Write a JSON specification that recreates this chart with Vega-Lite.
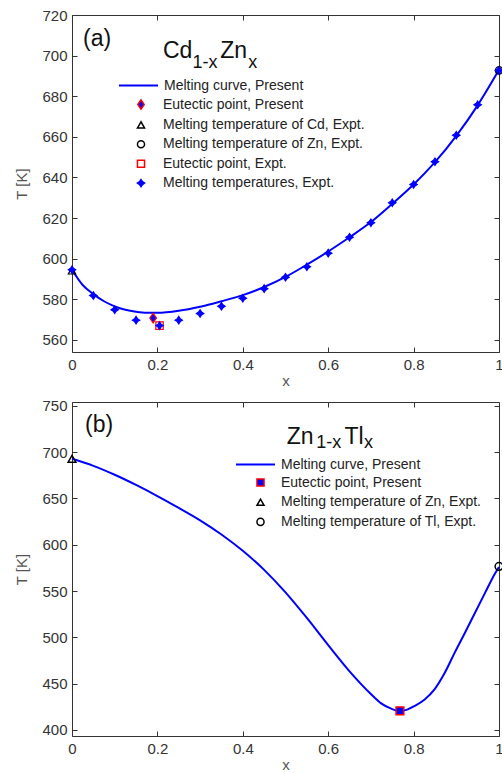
{
  "$schema": "https://vega.github.io/schema/vega-lite/v6.json",
  "background": "white",
  "padding": {"left": 14, "top": 7, "right": 0, "bottom": 0},
  "spacing": 9,
  "config": {
    "view": {"stroke": "#333", "strokeWidth": 1},
    "axis": {"grid": false, "domain": false, "tickColor": "#333", "tickSize": -5, "tickWidth": 1,
      "labelFont": "Liberation Sans", "labelFontSize": 15, "labelColor": "#333", "labelPadding": 10,
      "labelFlush": false, "labelOverlap": false,
      "titleFont": "Liberation Sans", "titleFontSize": 15, "titleFontWeight": "normal", "titleColor": "#555"},
    "axisX": {"titlePadding": 1},
    "axisY": {"titlePadding": 12},
    "legend": {"labelFont": "Liberation Sans", "labelFontSize": 14, "labelColor": "#222", "padding": 0, "labelLimit": 0}
  },
  "datasets": {
    "cz_curve": [
      {"x": 0, "T": 594.5}, {"x": 0.025, "T": 587}, {"x": 0.05, "T": 582.5}, {"x": 0.075, "T": 579},
      {"x": 0.1, "T": 576.5}, {"x": 0.125, "T": 574.8}, {"x": 0.15, "T": 573.8}, {"x": 0.175, "T": 573.3},
      {"x": 0.2, "T": 573.3}, {"x": 0.25, "T": 574.3}, {"x": 0.3, "T": 576.3}, {"x": 0.35, "T": 579},
      {"x": 0.4, "T": 582}, {"x": 0.45, "T": 586}, {"x": 0.5, "T": 591}, {"x": 0.55, "T": 597},
      {"x": 0.6, "T": 603.5}, {"x": 0.65, "T": 610.5}, {"x": 0.7, "T": 618}, {"x": 0.75, "T": 627},
      {"x": 0.8, "T": 636.5}, {"x": 0.85, "T": 647.5}, {"x": 0.9, "T": 660.5}, {"x": 0.95, "T": 675.5},
      {"x": 1, "T": 693}
    ],
    "cz_pts": [
      {"x": 0, "T": 594, "s": "Melting temperature of Cd, Expt."},
      {"x": 1, "T": 692.7, "s": "Melting temperature of Zn, Expt."},
      {"x": 0.205, "T": 567, "s": "Eutectic point, Expt."},
      {"x": 0.19, "T": 570.7, "s": "Eutectic point, Present"},
      {"x": 0, "T": 594.5, "s": "Melting temperatures, Expt."},
      {"x": 0.05, "T": 581.8, "s": "Melting temperatures, Expt."},
      {"x": 0.1, "T": 574.8, "s": "Melting temperatures, Expt."},
      {"x": 0.15, "T": 569.7, "s": "Melting temperatures, Expt."},
      {"x": 0.205, "T": 567, "s": "Melting temperatures, Expt."},
      {"x": 0.25, "T": 569.7, "s": "Melting temperatures, Expt."},
      {"x": 0.3, "T": 573, "s": "Melting temperatures, Expt."},
      {"x": 0.35, "T": 576.5, "s": "Melting temperatures, Expt."},
      {"x": 0.4, "T": 580.5, "s": "Melting temperatures, Expt."},
      {"x": 0.45, "T": 585.2, "s": "Melting temperatures, Expt."},
      {"x": 0.5, "T": 590.8, "s": "Melting temperatures, Expt."},
      {"x": 0.55, "T": 596, "s": "Melting temperatures, Expt."},
      {"x": 0.6, "T": 602.7, "s": "Melting temperatures, Expt."},
      {"x": 0.65, "T": 610.5, "s": "Melting temperatures, Expt."},
      {"x": 0.7, "T": 617.7, "s": "Melting temperatures, Expt."},
      {"x": 0.75, "T": 627.5, "s": "Melting temperatures, Expt."},
      {"x": 0.8, "T": 636.5, "s": "Melting temperatures, Expt."},
      {"x": 0.85, "T": 647.7, "s": "Melting temperatures, Expt."},
      {"x": 0.9, "T": 660.8, "s": "Melting temperatures, Expt."},
      {"x": 0.95, "T": 675.8, "s": "Melting temperatures, Expt."},
      {"x": 1, "T": 692.7, "s": "Melting temperatures, Expt."}
    ],
    "cz_big": [
      {"x": 0.026, "T": 704.7, "label": "(a)"},
      {"x": 0.213, "T": 698.7, "label": "Cd"},
      {"x": 0.347, "T": 698.7, "label": "Zn"}
    ],
    "cz_small": [
      {"x": 0.282, "T": 693.7, "label": "1-x"},
      {"x": 0.413, "T": 693.7, "label": "x"}
    ],
    "zt_curve": [
      {"x": 0, "T": 692.7}, {"x": 0.05, "T": 685.1}, {"x": 0.1, "T": 675.5}, {"x": 0.15, "T": 664.5},
      {"x": 0.2, "T": 652.5}, {"x": 0.25, "T": 639.7}, {"x": 0.3, "T": 626.3}, {"x": 0.35, "T": 611},
      {"x": 0.4, "T": 593.4}, {"x": 0.45, "T": 572.8}, {"x": 0.5, "T": 548.5}, {"x": 0.55, "T": 520.9},
      {"x": 0.6, "T": 491.6}, {"x": 0.65, "T": 463.3}, {"x": 0.7, "T": 438.8}, {"x": 0.724, "T": 428.7},
      {"x": 0.7475, "T": 423}, {"x": 0.768, "T": 420.5}, {"x": 0.785, "T": 422}, {"x": 0.802, "T": 425.8},
      {"x": 0.826, "T": 433}, {"x": 0.849, "T": 443.8}, {"x": 0.873, "T": 461.7}, {"x": 0.896, "T": 483.2},
      {"x": 0.92, "T": 504.7}, {"x": 0.9435, "T": 526.2}, {"x": 0.967, "T": 547.7}, {"x": 0.991, "T": 569.2},
      {"x": 1, "T": 576}
    ],
    "zt_pts": [
      {"x": 0, "T": 692.7, "s": "Melting temperature of Zn, Expt."},
      {"x": 1, "T": 576.5, "s": "Melting temperature of Tl, Expt."},
      {"x": 0.768, "T": 420.5, "s": "Eutectic point, Present"}
    ],
    "zt_big": [
      {"x": 0.0305, "T": 721.5, "label": "(b)"},
      {"x": 0.503, "T": 708.6, "label": "Zn"},
      {"x": 0.638, "T": 708.6, "label": "Tl"}
    ],
    "zt_small": [
      {"x": 0.572, "T": 703.9, "label": "1-x"},
      {"x": 0.684, "T": 703.9, "label": "x"}
    ]
  },
  "vconcat": [
    {
      "width": 427,
      "height": 337,
      "layer": [
        {
          "data": {"name": "cz_curve"},
          "mark": {"type": "line", "interpolate": "monotone", "strokeWidth": 2},
          "encoding": {
            "x": {"field": "x", "type": "quantitative", "scale": {"domain": [0, 1], "nice": false},
              "axis": {"orient": "bottom", "values": [0, 0.2, 0.4, 0.6, 0.8, 1], "format": "~g", "title": "x"}},
            "y": {"field": "T", "type": "quantitative", "scale": {"domain": [554, 720], "nice": false, "zero": false},
              "axis": {"orient": "left", "values": [560, 580, 600, 620, 640, 660, 680, 700, 720], "title": "T [K]"}},
            "color": {"datum": "Melting curve, Present", "type": "nominal", "scale": {"range": ["#0000ff"]},
              "legend": {"orient": "none", "legendX": 46, "legendY": 50, "title": null, "symbolType": "stroke",
                "symbolSize": 1521, "symbolStrokeWidth": 2, "labelOffset": 5}}
          }
        },
        {
          "data": {"name": "cz_pts"},
          "mark": {"type": "point", "size": 55, "strokeWidth": 1.2, "opacity": 1},
          "encoding": {
            "x": {"field": "x", "type": "quantitative",
              "axis": {"orient": "top", "values": [0, 0.2, 0.4, 0.6, 0.8, 1], "labels": false, "title": null}},
            "y": {"field": "T", "type": "quantitative",
              "axis": {"orient": "right", "values": [560, 580, 600, 620, 640, 660, 680, 700, 720], "labels": false, "title": null}},
            "shape": {"field": "s", "type": "nominal",
              "scale": {"domain": ["Eutectic point, Present", "Melting temperature of Cd, Expt.", "Melting temperature of Zn, Expt.", "Eutectic point, Expt.", "Melting temperatures, Expt."],
                "range": ["M0,-1.3L0.9,0L0,1.3L-0.9,0Z", "triangle-up", "circle", "square", "M0,-1L0.4,-0.4L1,0L0.4,0.4L0,1L-0.4,0.4L-1,0L-0.4,-0.4Z"]},
              "legend": {"orient": "none", "legendX": 62, "legendY": 82.5, "title": null, "symbolSize": 50, "symbolStrokeWidth": 1.5, "labelOffset": 15, "rowPadding": 5.4}},
            "fill": {"field": "s", "type": "nominal",
              "scale": {"domain": ["Eutectic point, Present", "Melting temperature of Cd, Expt.", "Melting temperature of Zn, Expt.", "Eutectic point, Expt.", "Melting temperatures, Expt."],
                "range": ["#0000ff", "transparent", "transparent", "transparent", "#0000ff"]},
              "legend": {"orient": "none", "legendX": 62, "legendY": 82.5, "title": null, "symbolSize": 50, "symbolStrokeWidth": 1.5, "labelOffset": 15, "rowPadding": 5.4}},
            "stroke": {"field": "s", "type": "nominal",
              "scale": {"domain": ["Eutectic point, Present", "Melting temperature of Cd, Expt.", "Melting temperature of Zn, Expt.", "Eutectic point, Expt.", "Melting temperatures, Expt."],
                "range": ["#ff0000", "#000000", "#000000", "#ff0000", "#0000ff"]},
              "legend": {"orient": "none", "legendX": 62, "legendY": 82.5, "title": null, "symbolSize": 50, "symbolStrokeWidth": 1.5, "labelOffset": 15, "rowPadding": 5.4}}
          }
        },
        {
          "data": {"name": "cz_big"},
          "mark": {"type": "text", "font": "Liberation Sans", "fontSize": 23, "align": "left", "baseline": "alphabetic", "color": "#111"},
          "encoding": {
            "x": {"field": "x", "type": "quantitative", "axis": null},
            "y": {"field": "T", "type": "quantitative", "axis": null},
            "text": {"field": "label"}
          }
        },
        {
          "data": {"name": "cz_small"},
          "mark": {"type": "text", "font": "Liberation Sans", "fontSize": 18, "align": "left", "baseline": "alphabetic", "color": "#111"},
          "encoding": {
            "x": {"field": "x", "type": "quantitative", "axis": null},
            "y": {"field": "T", "type": "quantitative", "axis": null},
            "text": {"field": "label"}
          }
        }
      ],
      "resolve": {"axis": {"x": "independent", "y": "independent"}}
    },
    {
      "width": 427,
      "height": 334,
      "layer": [
        {
          "data": {"name": "zt_curve"},
          "mark": {"type": "line", "interpolate": "monotone", "strokeWidth": 2},
          "encoding": {
            "x": {"field": "x", "type": "quantitative", "scale": {"domain": [0, 1], "nice": false},
              "axis": {"orient": "bottom", "values": [0, 0.2, 0.4, 0.6, 0.8, 1], "format": "~g", "title": "x"}},
            "y": {"field": "T", "type": "quantitative", "scale": {"domain": [393.5, 754], "nice": false, "zero": false},
              "axis": {"orient": "left", "values": [400, 450, 500, 550, 600, 650, 700, 750], "title": "T [K]"}},
            "color": {"datum": "Melting curve, Present", "type": "nominal", "scale": {"range": ["#0000ff"]},
              "legend": {"orient": "none", "legendX": 163, "legendY": 42, "title": null, "symbolType": "stroke",
                "symbolSize": 1521, "symbolStrokeWidth": 2, "labelOffset": 5}}
          }
        },
        {
          "data": {"name": "zt_pts"},
          "mark": {"type": "point", "size": 60, "strokeWidth": 1.5, "opacity": 1},
          "encoding": {
            "x": {"field": "x", "type": "quantitative",
              "axis": {"orient": "top", "values": [0, 0.2, 0.4, 0.6, 0.8, 1], "labels": false, "title": null}},
            "y": {"field": "T", "type": "quantitative",
              "axis": {"orient": "right", "values": [400, 450, 500, 550, 600, 650, 700, 750], "labels": false, "title": null}},
            "shape": {"field": "s", "type": "nominal",
              "scale": {"domain": ["Eutectic point, Present", "Melting temperature of Zn, Expt.", "Melting temperature of Tl, Expt."],
                "range": ["square", "triangle-up", "circle"]},
              "legend": {"orient": "none", "legendX": 181.5, "legendY": 73.5, "title": null, "symbolSize": 50, "symbolStrokeWidth": 1.5, "labelOffset": 13.5, "rowPadding": 5.7}},
            "fill": {"field": "s", "type": "nominal",
              "scale": {"domain": ["Eutectic point, Present", "Melting temperature of Zn, Expt.", "Melting temperature of Tl, Expt."],
                "range": ["#0000ff", "transparent", "transparent"]},
              "legend": {"orient": "none", "legendX": 181.5, "legendY": 73.5, "title": null, "symbolSize": 50, "symbolStrokeWidth": 1.5, "labelOffset": 13.5, "rowPadding": 5.7}},
            "stroke": {"field": "s", "type": "nominal",
              "scale": {"domain": ["Eutectic point, Present", "Melting temperature of Zn, Expt.", "Melting temperature of Tl, Expt."],
                "range": ["#ff0000", "#000000", "#000000"]},
              "legend": {"orient": "none", "legendX": 181.5, "legendY": 73.5, "title": null, "symbolSize": 50, "symbolStrokeWidth": 1.5, "labelOffset": 13.5, "rowPadding": 5.7}}
          }
        },
        {
          "data": {"name": "zt_big"},
          "mark": {"type": "text", "font": "Liberation Sans", "fontSize": 23, "align": "left", "baseline": "alphabetic", "color": "#111"},
          "encoding": {
            "x": {"field": "x", "type": "quantitative", "axis": null},
            "y": {"field": "T", "type": "quantitative", "axis": null},
            "text": {"field": "label"}
          }
        },
        {
          "data": {"name": "zt_small"},
          "mark": {"type": "text", "font": "Liberation Sans", "fontSize": 18, "align": "left", "baseline": "alphabetic", "color": "#111"},
          "encoding": {
            "x": {"field": "x", "type": "quantitative", "axis": null},
            "y": {"field": "T", "type": "quantitative", "axis": null},
            "text": {"field": "label"}
          }
        }
      ],
      "resolve": {"axis": {"x": "independent", "y": "independent"}}
    }
  ],
  "resolve": {"scale": {"color": "independent", "shape": "independent", "fill": "independent", "stroke": "independent"}}
}
